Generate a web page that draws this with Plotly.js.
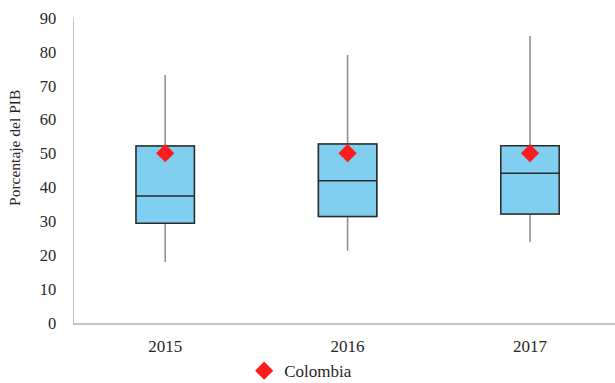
<!DOCTYPE html>
<html><head><meta charset="utf-8">
<script src="https://cdn.plot.ly/plotly-3.0.1.min.js"></script>
<style>html,body{margin:0;padding:0;background:#fff}#c{width:615px;height:383px}</style>
</head><body><div id="c"></div>
<script>
const years = ['2015', '2016', '2017'];
const lowerWhisker = [18.0, 21.3, 23.9];
const q1 = [29.4, 31.4, 32.2];
const median = [37.5, 42.0, 44.2];
const q3 = [52.2, 52.8, 52.3];
const upperWhisker = [73.2, 79.1, 84.7];
const colombia = [50.1, 50.1, 50.1];
const yTicks = [0, 10, 20, 30, 40, 50, 60, 70, 80, 90];

const serif = 'Liberation Serif, Times New Roman, serif';

const whiskers = {
  type: 'box', x: years, q1: q1, median: median, q3: q3,
  lowerfence: lowerWhisker, upperfence: upperWhisker,
  width: 0.32, whiskerwidth: 0, fillcolor: '#80CEF0',
  line: {color: '#8c8c8c', width: 1.5}, showlegend: false, hoverinfo: 'skip'
};
const boxes = {
  type: 'box', x: years, q1: q1, median: median, q3: q3,
  lowerfence: q1, upperfence: q3,
  width: 0.32, whiskerwidth: 0, fillcolor: '#80CEF0',
  line: {color: '#2b2b2b', width: 1.5}, showlegend: false, hoverinfo: 'skip'
};
const pts = {
  type: 'scatter', mode: 'markers', x: years, y: colombia, name: 'Colombia',
  marker: {symbol: 'diamond', size: 14, color: '#FF1A1F'}
};

const layout = {
  width: 615, height: 383,
  margin: {l: 74, r: 0, t: 18, b: 60, autoexpand: false},
  paper_bgcolor: '#fff', plot_bgcolor: '#fff',
  boxmode: 'overlay',
  font: {family: serif, size: 16.5, color: '#262626'},
  xaxis: {
    type: 'category', range: [-0.5, 2.466],
    showline: true, linecolor: '#c4c4c4', linewidth: 1.5,
    showgrid: false, zeroline: false, ticks: '', ticklabelstandoff: 7,
    tickfont: {family: serif, size: 17, color: '#262626'}
  },
  yaxis: {
    range: [0, 90], tickvals: yTicks, ticktext: yTicks.map(String),
    showline: true, linecolor: '#c4c4c4', linewidth: 1.5,
    showgrid: false, zeroline: false, ticks: '', ticklabelstandoff: 13,
    tickfont: {family: serif, size: 16.5, color: '#262626'}
  },
  showlegend: true,
  legend: {
    orientation: 'h', xref: 'container', yref: 'container',
    x: 0.397, xanchor: 'left', y: 0.031, yanchor: 'middle',
    font: {family: serif, size: 17, color: '#262626'}
  },
  annotations: [{
    text: 'Porcentaje del PIB', textangle: -90, xref: 'paper', yref: 'paper',
    x: -0.109, y: 0.574, xanchor: 'center', yanchor: 'middle', showarrow: false,
    font: {family: serif, size: 15.5, color: '#262626'}
  }]
};

Plotly.newPlot('c', [whiskers, boxes, pts], layout, {displayModeBar: false, staticPlot: true});
</script>
</body></html>
